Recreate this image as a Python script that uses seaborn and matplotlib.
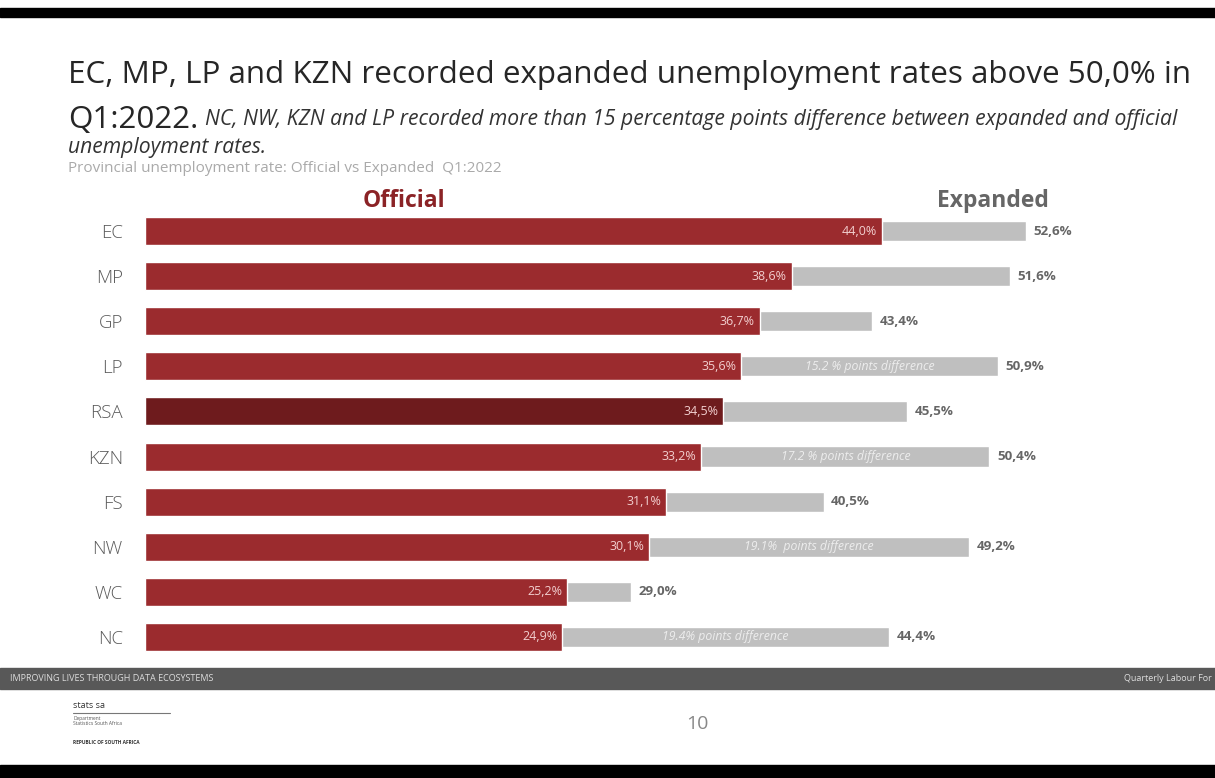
import matplotlib
matplotlib.use("Agg")
import matplotlib.pyplot as plt
import seaborn as sns
import pandas as pd
from matplotlib.patches import Rectangle
from matplotlib.lines import Line2D

provinces = ["EC", "MP", "GP", "LP", "RSA", "KZN", "FS", "NW", "WC", "NC"]
official = [44.0, 38.6, 36.7, 35.6, 34.5, 33.2, 31.1, 30.1, 25.2, 24.9]
expanded = [52.6, 51.6, 43.4, 50.9, 45.5, 50.4, 40.5, 49.2, 29.0, 44.4]
diff_notes = {"LP": "15.2 % points difference", "KZN": "17.2 % points difference",
              "NW": "19.1%  points difference", "NC": "19.4% points difference"}

def fmt(v):
    return f"{v:.1f}%".replace(".", ",")

sns.set_theme(style="white")
plt.rcParams['font.family'] = ['Open Sans', 'DejaVu Sans']

df = pd.DataFrame({"prov": provinces, "official": official, "expanded": expanded})

fig = plt.figure(figsize=(12.15, 7.78), dpi=100)
fig.patch.set_facecolor("white")
ax = fig.add_axes([145/1215, 1-659.5/778, 955/1215, 451/778])

sns.barplot(data=df, x="expanded", y="prov", color="#BFBFBF", width=0.45,
            saturation=1, ax=ax)
red_pal = {p: ("#6E1B1D" if p == "RSA" else "#9B2B2E") for p in provinces}
sns.barplot(data=df, x="official", y="prov", hue="prov", palette=red_pal,
            width=0.62, saturation=1, legend=False, ax=ax)

ax.set_xlim(0, 57)
ax.set_ylim(9.5, -0.5)
for s in ax.spines.values():
    s.set_visible(False)
ax.set_xticks([])
ax.set_xlabel("")
ax.set_ylabel("")
ax.tick_params(axis="y", length=0, pad=16)
ax.set_yticks(range(len(provinces)))
ax.set_yticklabels(provinces, fontsize=13.5, color="#5A5A5A", fontweight="light")

for i, (p, o, e) in enumerate(zip(provinces, official, expanded)):
    ax.text(o - 0.3, i, fmt(o), ha="right", va="center", fontsize=9,
            color="#F2CFCF")
    ax.text(e + 0.45, i, fmt(e), ha="left", va="center", fontsize=9.6,
            color="#666666", fontweight="bold")
    if p in diff_notes:
        ax.text((o + e) / 2, i, diff_notes[p], ha="center", va="center",
                fontsize=8.8, color="#EDEDED", style="italic")

# headers
fig.text(404/1215, 1-201/778, "Official", ha="center", va="center",
         fontsize=16.5, fontweight="bold", color="#8B2326")
fig.text(993/1215, 1-201/778, "Expanded", ha="center", va="center",
         fontsize=16.5, fontweight="bold", color="#666666")

# titles
fig.text(68/1215, 1-75/778,
         "EC, MP, LP and KZN recorded expanded unemployment rates above 50,0% in",
         ha="left", va="center", fontsize=22.6, color="#262626")
fig.text(68/1215, 1-120/778, "Q1:2022.", ha="left", va="center",
         fontsize=22.6, color="#262626")
fig.text(205/1215, 1-119/778,
         "NC, NW, KZN and LP recorded more than 15 percentage points difference between expanded and official",
         ha="left", va="center", fontsize=15.2, style="italic", color="#333333")
fig.text(68/1215, 1-147/778, "unemployment rates.", ha="left", va="center",
         fontsize=15.2, style="italic", color="#333333")
fig.text(68/1215, 1-168/778,
         "Provincial unemployment rate: Official vs Expanded  Q1:2022",
         ha="left", va="center", fontsize=11, color="#AAAAAA")

# decorative bands
fig.add_artist(Rectangle((0, 1-17/778), 1, 9/778, transform=fig.transFigure,
                         color="black", zorder=0))
fig.add_artist(Rectangle((0, 0), 1, 13/778, transform=fig.transFigure,
                         color="black", zorder=0))
fig.add_artist(Rectangle((0, 1-689/778), 1, 21/778, transform=fig.transFigure,
                         color="#585858", zorder=0))
fig.text(10/1215, 1-678.5/778, "IMPROVING LIVES THROUGH DATA ECOSYSTEMS",
         ha="left", va="center", fontsize=6.5, color="#DDDDDD")
fig.text(1212/1215, 1-678.5/778, "Quarterly Labour For",
         ha="right", va="center", fontsize=6.5, color="#DDDDDD")
fig.text(697/1215, 1-724/778, "10", ha="center", va="center",
         fontsize=14, color="#888888")
fig.text(73/1215, 1-705/778, "stats sa", ha="left", va="center",
         fontsize=6.5, color="#333333")
fig.add_artist(Line2D([73/1215, 170/1215], [1-713/778, 1-713/778],
                      transform=fig.transFigure, color="#777777", lw=0.8))
fig.text(73/1215, 1-721/778, "Department\nStatistics South Africa",
         ha="left", va="center", fontsize=3.5, color="#555555", linespacing=1.1)
fig.text(73/1215, 1-743/778, "REPUBLIC OF SOUTH AFRICA", ha="left", va="center",
         fontsize=3.5, color="#333333", fontweight="bold")

fig.savefig("out.png", dpi=100)
